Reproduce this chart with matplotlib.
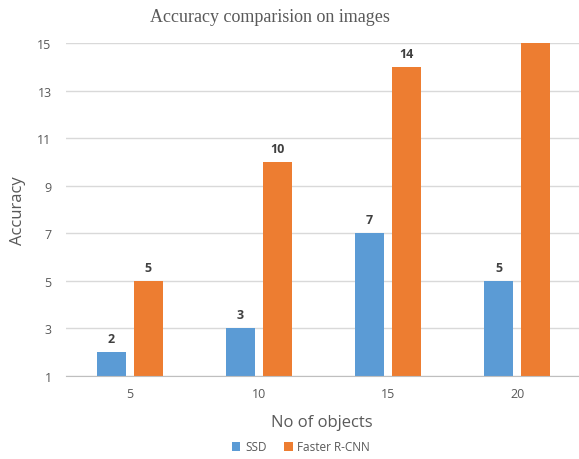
import matplotlib.pyplot as plt
import numpy as np

objects = ['5', '10', '15', '20']
ssd = [2, 3, 7, 5]
faster_rcnn = [5, 10, 14, 15]
labels_shown = [True, True, True, False]

blue = '#5B9BD5'
orange = '#ED7D31'
grey_text = '#595959'

plt.rcParams['font.family'] = ['Open Sans', 'DejaVu Sans']

fig = plt.figure(figsize=(5.79, 4.60), dpi=100)
ax = fig.add_axes([65.5 / 579, 1 - 377 / 460, 1 - 65.5 / 579, (377 - 44) / 460])

xs = np.arange(len(objects))
w = 0.225
off = 0.143
b1 = ax.bar(xs - off, [v - 1 for v in ssd], w, bottom=1, color=blue, label='SSD')
b2 = ax.bar(xs + off, [v - 1 for v in faster_rcnn], w, bottom=1, color=orange,
            label='Faster R-CNN')

for x, v in zip(xs - off, ssd):
    ax.text(x, v + 0.3, str(v), ha='center', va='bottom', fontsize=9,
            color='#404040', fontweight='bold')
for x, v, show in zip(xs + off, faster_rcnn, labels_shown):
    if show:
        ax.text(x, v + 0.3, str(v), ha='center', va='bottom', fontsize=9,
                color='#404040', fontweight='bold')

ax.set_xlim(-0.5, 3.48)
ax.set_ylim(1, 15)
ax.set_yticks(range(1, 16, 2))
ax.set_xticks(xs)
ax.set_xticklabels(objects)
ax.yaxis.grid(True, color='#D9D9D9', linewidth=1)
ax.set_axisbelow(True)
for s in ['top', 'right', 'left']:
    ax.spines[s].set_visible(False)
ax.spines['bottom'].set_color('#BFBFBF')
ax.tick_params(axis='both', length=0, colors=grey_text, labelsize=9)
ax.tick_params(axis='x', pad=8)
ax.tick_params(axis='y', pad=10)

ax.set_xlabel('No of objects', fontsize=12, color=grey_text, labelpad=10)
ax.set_ylabel('Accuracy', fontsize=12, color=grey_text, labelpad=8)
fig.text(0.466, 1 - 17 / 460, 'Accuracy comparision on images', ha='center',
         va='center', fontsize=13, color=grey_text, family='Liberation Serif')

fig.legend(handles=[b1, b2], loc='center', bbox_to_anchor=(0.52, 1 - 448 / 460),
           ncol=2, frameon=False, fontsize=8.5, handlelength=0.7, handleheight=0.7,
           handletextpad=0.4, columnspacing=1.5, labelcolor=grey_text)

fig.savefig('out.png', dpi=100)
